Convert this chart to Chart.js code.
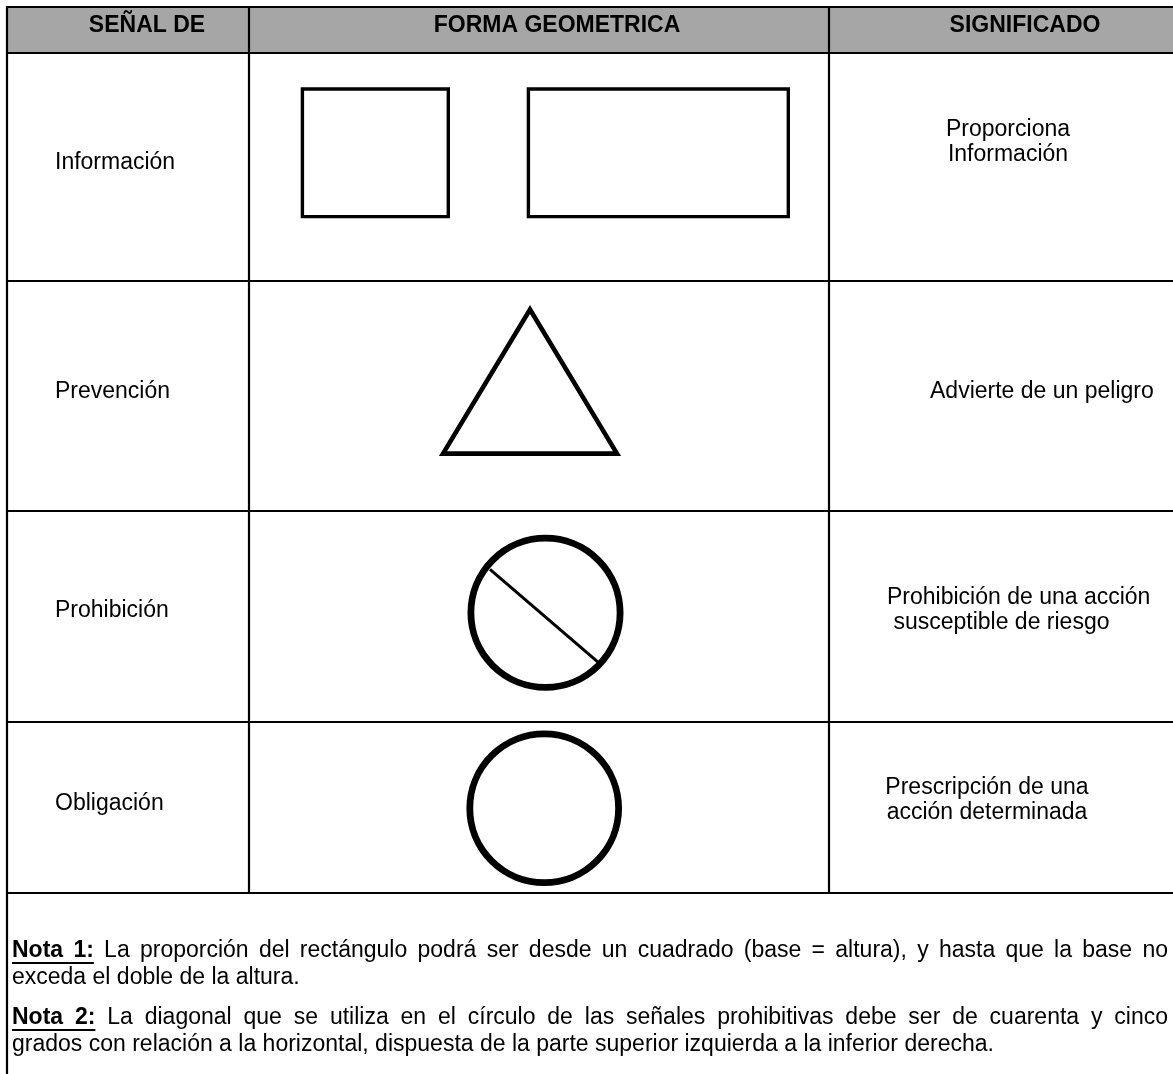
<!DOCTYPE html>
<html><head><meta charset="utf-8">
<script src="https://cdn.jsdelivr.net/npm/chart.js@4.4.1/dist/chart.umd.min.js"></script>
<style>html,body{margin:0;padding:0;background:#fff;overflow:hidden}#wrap{width:1173px;height:1074px}</style>
</head><body><div id="wrap"><canvas id="c" width="1173" height="1074"></canvas></div>
<script>
// ---------- content ----------
const headers = ['SEÑAL DE', 'FORMA GEOMETRICA', 'SIGNIFICADO'];
const signals = ['Información', 'Prevención', 'Prohibición', 'Obligación'];
const meanings = [
  ['Proporciona', 'Información'],
  ['Advierte de un peligro'],
  ['Prohibición de una acción', ' susceptible de riesgo'],
  ['Prescripción de una', 'acción determinada']
];
const noteLabels = ['Nota 1:', 'Nota 2:'];
const noteLines = [
  ['La proporción del rectángulo podrá ser desde un cuadrado (base = altura), y hasta que la base no', 'exceda el doble de la altura.'],
  ['La diagonal que se utiliza en el círculo de las señales prohibitivas debe ser de cuarenta y cinco', 'grados con relación a la horizontal, dispuesta de la parte superior izquierda a la inferior derecha.']
];
// geometric shapes, in the units of the x / y scales
const squareShape = [[375,89],[448.3,89],[448.3,216.6],[302.4,216.6],[302.4,89],[375,89]];
const rectShape = [[658,89],[788.3,89],[788.3,216.6],[528.4,216.6],[528.4,89],[658,89]];
const triangleShape = [[530,453.6],[617,453.6],[530,309.5],[443,453.6],[530,453.6]];
const ringCentres = [[545.5,612.8],[544.2,808.3]];
const ringRadii = [74.6, 74.4];
const diagonalLine = [[490,569.3],[598.3,662.3]];

// ---------- layout ----------
const W = 1173, H = 1074;
const colEdges = [7, 249, 829, 1185];
const rowEdges = [7, 53, 281, 511, 722, 893];
const tableBottom = 1085;
const FONT = "'Liberation Sans', Arial, sans-serif";
const FS = 23;
const headerX = [147, 557, 1025], headerY = 26;
const signalX = 55, signalY = [163, 392, 611, 804];
const meaningPos = [
  {align:'center', x:1008, y:[130,155]},
  {align:'left', x:930, y:[392]},
  {align:'left', x:887, y:[598,623]},
  {align:'center', x:987, y:[788,813]}
];
const noteX0 = 12, noteX1 = 1168;
const noteY = [[951,978],[1018,1045]];

const pts = a => a.map(p => ({x:p[0], y:p[1]}));
const lineDs = (data, w, extra) => Object.assign({type:'scatter', data:pts(data), showLine:true, borderColor:'#000', borderWidth:w, pointRadius:0, borderJoinStyle:'miter', fill:false, order:1}, extra||{});

const datasets = [];
// header background
datasets.push({type:'scatter', data:pts([[colEdges[0],rowEdges[0]],[colEdges[3],rowEdges[0]]]), showLine:true, borderWidth:0, pointRadius:0, fill:{value:rowEdges[1]}, backgroundColor:'#a6a6a6', order:10});
// grid lines
rowEdges.forEach(y => datasets.push(lineDs([[colEdges[0],y],[colEdges[3],y]], 2.2, {order:2})));
datasets.push(lineDs([[colEdges[0],rowEdges[0]-1],[colEdges[0],tableBottom]], 2.2, {order:2}));
colEdges.slice(1).forEach(x => datasets.push(lineDs([[x,rowEdges[0]],[x,rowEdges[rowEdges.length-1]]], 2.2, {order:2})));
// shapes
datasets.push(lineDs(squareShape, 3.4));
datasets.push(lineDs(rectShape, 3.4));
datasets.push(lineDs(triangleShape, 4.6));
datasets.push(lineDs(diagonalLine, 3));
datasets.push({type:'scatter', data:pts(ringCentres), pointStyle:'circle', pointRadius:ringRadii, pointBorderWidth:6.8, pointBorderColor:'#000', pointBackgroundColor:'rgba(0,0,0,0)', showLine:false, order:1, clip:false});

const textPlugin = {
  id:'tableText',
  afterDatasetsDraw(chart){
    const ctx = chart.ctx, xs = chart.scales.x, ys = chart.scales.y;
    const px = v => xs.getPixelForValue(v), py = v => ys.getPixelForValue(v);
    ctx.save();
    ctx.fillStyle = '#000';
    ctx.textBaseline = 'middle';
    // headers
    ctx.font = 'bold ' + FS + 'px ' + FONT;
    ctx.textAlign = 'center';
    headers.forEach((h,i) => ctx.fillText(h, px(headerX[i]), py(headerY)));
    // signals
    ctx.font = FS + 'px ' + FONT;
    ctx.textAlign = 'left';
    signals.forEach((s,i) => ctx.fillText(s, px(signalX), py(signalY[i])));
    // meanings
    meanings.forEach((lines,i) => {
      const m = meaningPos[i];
      ctx.textAlign = m.align;
      lines.forEach((l,j) => ctx.fillText(l, px(m.x), py(m.y[j])));
    });
    // notes
    ctx.textAlign = 'left';
    const bold = 'bold ' + FS + 'px ' + FONT, reg = FS + 'px ' + FONT;
    noteLabels.forEach((lab,i) => {
      noteLines[i].forEach((line,j) => {
        const words = [];
        if (j === 0) lab.split(' ').forEach(w => words.push({t:w, b:true}));
        line.split(' ').forEach(w => words.push({t:w, b:false}));
        let sum = 0;
        words.forEach(w => { ctx.font = w.b ? bold : reg; w.w = ctx.measureText(w.t).width; sum += w.w; });
        ctx.font = reg;
        const x0 = px(noteX0), x1 = px(noteX1);
        const justify = j < noteLines[i].length - 1;
        const gap = justify ? (x1 - x0 - sum) / (words.length - 1) : ctx.measureText(' ').width;
        let x = x0, ulEnd = x0;
        const y = py(noteY[i][j]);
        words.forEach(w => {
          ctx.font = w.b ? bold : reg;
          ctx.fillText(w.t, x, y);
          if (w.b) ulEnd = x + w.w;
          x += w.w + gap;
        });
        if (j === 0) { ctx.fillRect(x0, y + FS*0.5 - 0.5, ulEnd - x0, 2); }
      });
    });
    ctx.restore();
  }
};

new Chart(document.getElementById('c'), {
  data:{datasets},
  options:{
    responsive:false, devicePixelRatio:1, animation:false, events:[],
    layout:{padding:0, autoPadding:false},
    plugins:{legend:{display:false}, tooltip:{enabled:false}},
    scales:{
      x:{type:'linear', min:0, max:W, display:false},
      y:{type:'linear', min:0, max:H, reverse:true, display:false}
    }
  },
  plugins:[textPlugin]
});
</script></body></html>
